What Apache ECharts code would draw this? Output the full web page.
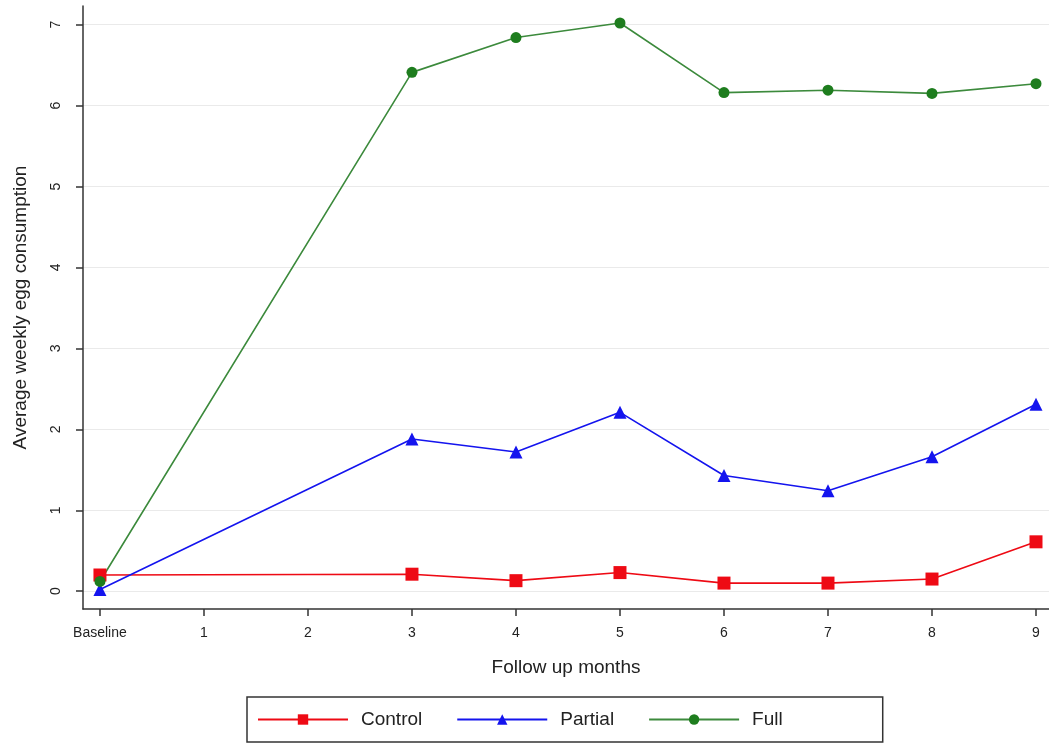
<!DOCTYPE html>
<html>
<head>
<meta charset="utf-8">
<script src="https://cdn.jsdelivr.net/npm/echarts@6/dist/echarts.min.js"></script>
<style>
html,body{margin:0;padding:0;background:#fff;}
#chart{width:1049px;height:748px;}
</style>
</head>
<body>
<div id="chart"></div>
<script>
const xLabels = ['Baseline','1','2','3','4','5','6','7','8','9'];
const months = [0,3,4,5,6,7,8,9];
const control = [0.20,0.21,0.13,0.23,0.10,0.10,0.15,0.61];
const partial = [0.02,1.88,1.72,2.21,1.43,1.24,1.66,2.31];
const full = [0.12,6.41,6.84,7.02,6.16,6.19,6.15,6.27];
const yTicks = [0,1,2,3,4,5,6,7];
const xTicks = [0,1,2,3,4,5,6,7,8,9];

const pairs = arr => arr.map((v,i)=>[months[i], v]);
const font = 'Liberation Sans, Arial, sans-serif';

const chart = echarts.init(document.getElementById('chart'), null, {renderer:'canvas'});
chart.setOption({
  backgroundColor:'#fff',
  animation:false,
  textStyle:{fontFamily:font},
  grid:{left:83, right:0, top:6, bottom:139, containLabel:false},
  xAxis:{
    type:'value', min:-0.163, max:9.125,
    name:'Follow up months', nameLocation:'middle', nameGap:49,
    nameTextStyle:{fontSize:19, color:'#222', fontFamily:font},
    axisLine:{show:true, onZero:false, lineStyle:{color:'#333', width:1.5}},
    axisTick:{show:true, customValues:xTicks, length:7, inside:false, lineStyle:{color:'#333', width:1.5}},
    axisLabel:{customValues:xTicks, formatter:v=>xLabels[v], fontSize:14, color:'#222', margin:17},
    splitLine:{show:false}
  },
  yAxis:{
    type:'value', min:-0.22, max:7.23,
    name:'Average weekly egg consumption', nameLocation:'middle', nameGap:53,
    nameTextStyle:{fontSize:19, color:'#222', fontFamily:font},
    axisLine:{show:true, onZero:false, lineStyle:{color:'#333', width:1.5}},
    axisTick:{show:true, customValues:yTicks, length:7, inside:false, lineStyle:{color:'#333', width:1.5}},
    axisLabel:{customValues:yTicks, rotate:90, fontSize:14, color:'#222', margin:20},
    splitLine:{show:true, lineStyle:{color:'#eaeaea', width:1}}
  },
  legend:{
    left:247, top:697,
    padding:[13,100,13,10],
    borderColor:'#333', borderWidth:1.5,
    itemWidth:90, itemHeight:13, itemGap:34,
    textStyle:{fontSize:19, color:'#222', fontFamily:font, padding:[0,0,0,8]},
    data:['Control','Partial','Full']
  },
  series:[
    {name:'Control', type:'line', data:pairs(control), symbol:'rect', symbolSize:13,
     color:'#ee0a14', lineStyle:{width:1.6, color:'#ee0a14'}, itemStyle:{color:'#ee0a14'}},
    {name:'Partial', type:'line', data:pairs(partial), symbol:'triangle', symbolSize:13,
     color:'#1414ee', lineStyle:{width:1.6, color:'#1414ee'}, itemStyle:{color:'#1414ee'}},
    {name:'Full', type:'line', data:pairs(full), symbol:'circle', symbolSize:11,
     color:'#1e7d1e', lineStyle:{width:1.6, color:'#3c8a3c'}, itemStyle:{color:'#1e7d1e'}}
  ]
});
</script>
</body>
</html>
